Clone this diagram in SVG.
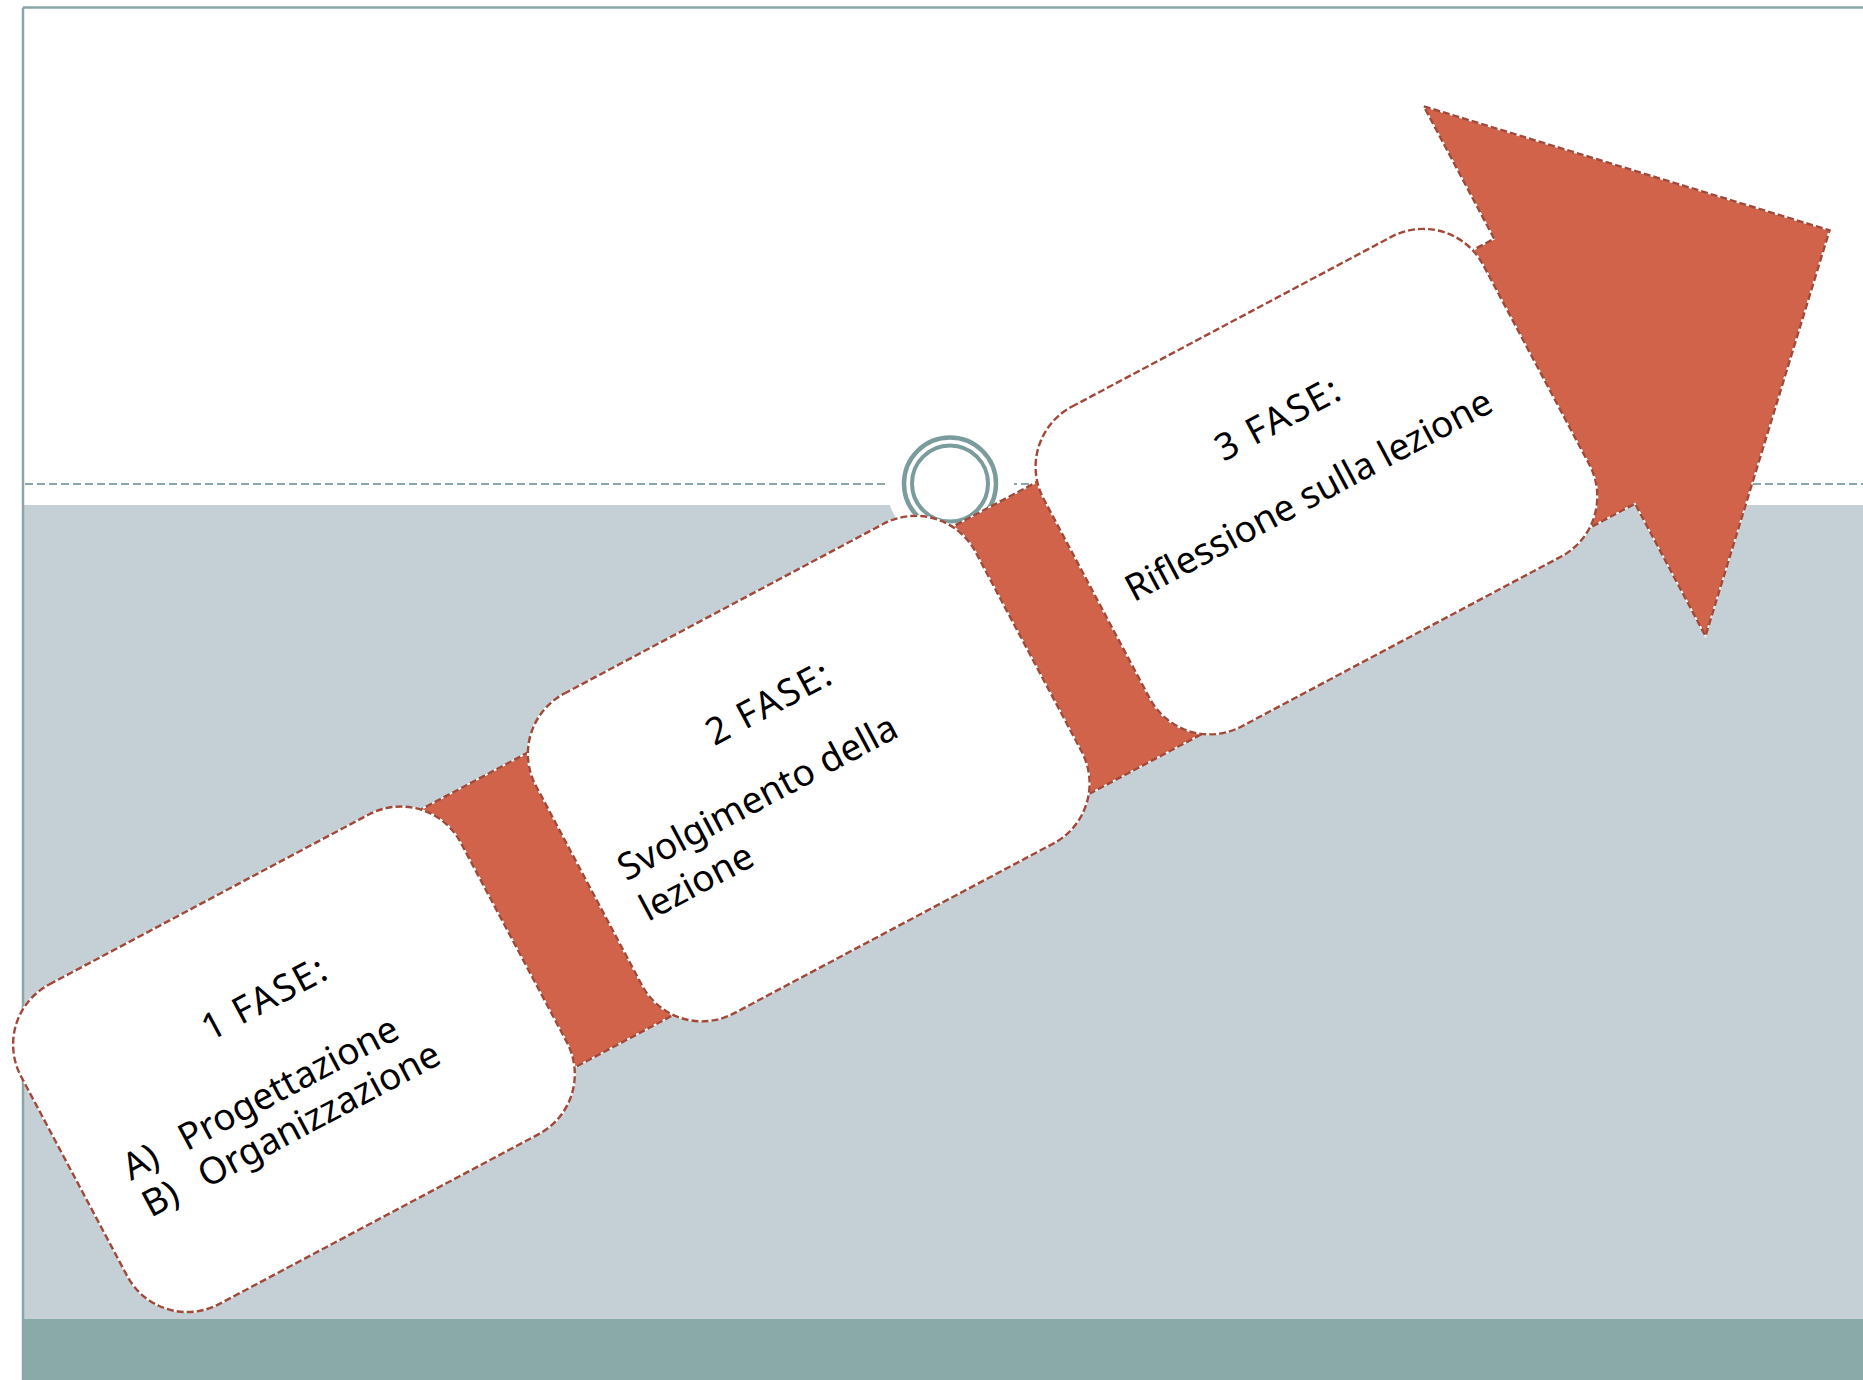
<svg xmlns="http://www.w3.org/2000/svg" xmlns:xlink="http://www.w3.org/1999/xlink" width="1863" height="1380" viewBox="0 0 1863 1380">
  <style>
    .frame { stroke: #8aa6a6; stroke-width: 2.5; fill: none; }
    .rule { stroke: #8aa6a6; stroke-width: 2.2; stroke-dasharray: 8 4; fill: none; }
    .ring { stroke: #7a9c9c; fill: none; }
    .under { fill: none; stroke: #ffffff; stroke-width: 1.6; }
    .edge { fill: none; stroke: #a14838; stroke-width: 2.4; stroke-dasharray: 7 3; }
    .red { fill: #d0634a; }
    .card { fill: #ffffff; }
    .lbl { font-family: "Noto Sans", "DejaVu Sans", sans-serif; font-size: 37px; fill: #000000; }
    .mid { text-anchor: middle; letter-spacing: 2px; }
  </style>
  <defs>
    <!-- arrow body in the rotated frame: shaft plus head -->
    <polygon id="arrowShape" points="-1600,-150 0,-150 0,-300 300,0 0,300 0,150 -1600,150"/>
    <rect id="card1" x="-1694" y="-170" width="498" height="362" rx="68" ry="68"/>
    <rect id="card2" x="-1103" y="-185" width="498" height="362" rx="68" ry="68"/>
    <rect id="card3" x="-520" y="-200" width="498" height="362" rx="68" ry="68"/>
  </defs>

  <!-- page background -->
  <rect x="0" y="0" width="1863" height="1380" fill="#ffffff"/>
  <rect x="23" y="505" width="1840" height="814" fill="#c5d0d6"/>
  <rect x="23" y="1319" width="1840" height="61" fill="#8aaaaa"/>
  <line class="rule" x1="25" y1="484" x2="1863" y2="484"/>
  <line class="frame" x1="23" y1="7.5" x2="1863" y2="7.5"/>
  <line class="frame" x1="23" y1="7.5" x2="23" y2="1380"/>

  <!-- title ornament -->
  <g id="ornament">
    <circle cx="950" cy="483.5" r="64" fill="#ffffff"/>
    <circle class="ring" cx="950" cy="483.5" r="46" stroke-width="4.5"/>
    <circle class="ring" cx="950" cy="483.5" r="38" stroke-width="4"/>
  </g>

  <g transform="translate(1564.65 371.2) rotate(-28)">
    <g id="connectors">
      <use xlink:href="#arrowShape" class="red"/>
      <use xlink:href="#arrowShape" class="under"/>
      <use xlink:href="#arrowShape" class="edge"/>
    </g>

    <g id="fase1">
      <use xlink:href="#card1" class="card"/>
      <use xlink:href="#card1" class="under"/>
      <use xlink:href="#card1" class="edge"/>
      <text class="lbl mid" x="-1442" y="-44">1 FASE:</text>
      <text class="lbl" x="-1646" y="42">A)</text>
      <text class="lbl" x="-1583" y="42">Progettazione</text>
      <text class="lbl" x="-1646" y="84">B)</text>
      <text class="lbl" x="-1583" y="84">Organizzazione</text>
    </g>

    <g id="fase2">
      <use xlink:href="#card2" class="card"/>
      <use xlink:href="#card2" class="under"/>
      <use xlink:href="#card2" class="edge"/>
      <text class="lbl mid" x="-858" y="-68">2 FASE:</text>
      <text class="lbl" x="-1068" y="10">Svolgimento della</text>
      <text class="lbl" x="-1068" y="56">lezione</text>
    </g>

    <g id="fase3">
      <use xlink:href="#card3" class="card"/>
      <use xlink:href="#card3" class="under"/>
      <use xlink:href="#card3" class="edge"/>
      <text class="lbl mid" x="-275" y="-80">3 FASE:</text>
      <text class="lbl" x="-489" y="2">Riflessione sulla lezione</text>
    </g>
  </g>
</svg>
